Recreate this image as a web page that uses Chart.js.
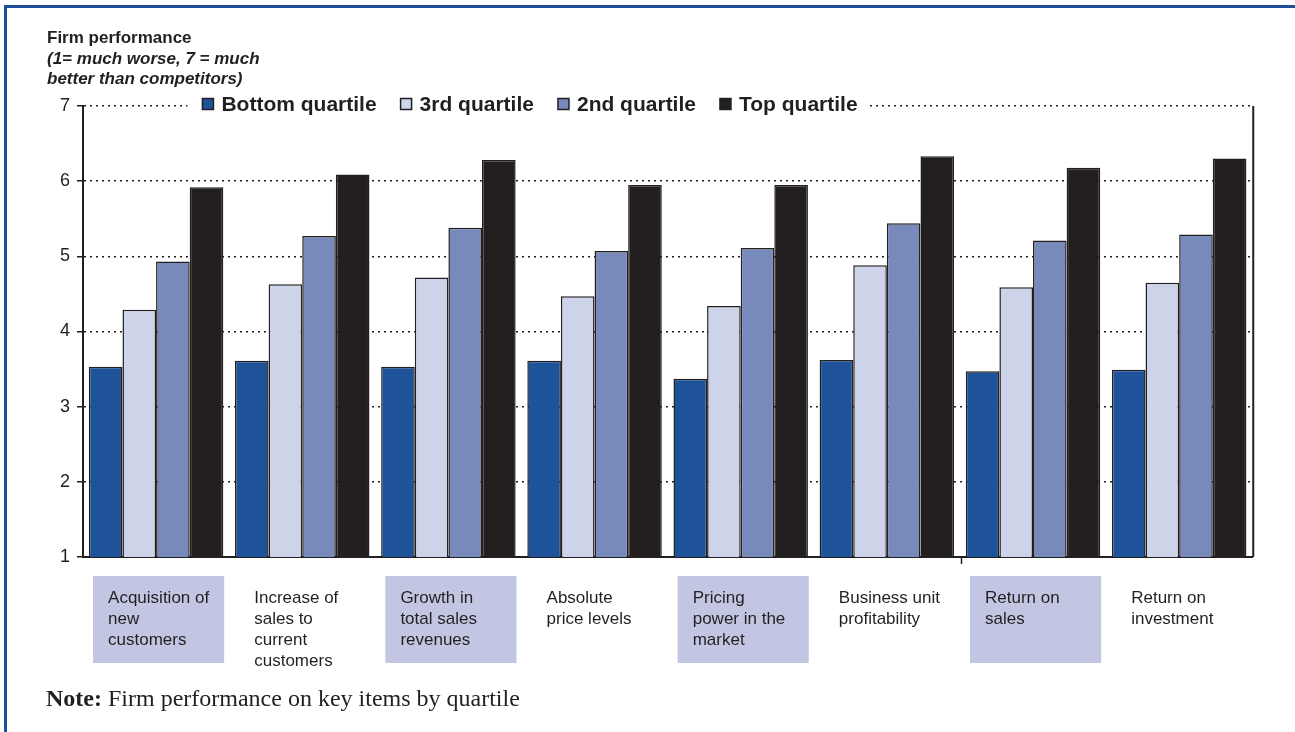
<!DOCTYPE html>
<html>
<head>
<meta charset="utf-8">
<script src="https://cdn.jsdelivr.net/npm/chart.js@4.4.1/dist/chart.umd.min.js"></script>
<style>
  html, body { margin: 0; padding: 0; background: #fff; }
  #wrap { position: relative; width: 1295px; height: 732px; overflow: hidden; }
  #chart { position: absolute; left: 0; top: 0; }
  #frame { position: absolute; left: 4px; top: 5px; width: 1320px; height: 760px;
           border-top: 3px solid #1d4f99; border-left: 3px solid #1d4f99; }
  #ytitle { position: absolute; left: 47px; top: 28px; font-family: "Liberation Sans", Arial, sans-serif;
            font-size: 17px; font-weight: bold; line-height: 20.5px; color: #231f20; }
  #ytitle i { font-style: italic; }
  #note { position: absolute; left: 46px; top: 684px; font-family: "Liberation Serif", "Times New Roman", serif;
          font-size: 24px; line-height: 28px; color: #231f20; }
</style>
</head>
<body>
<div id="wrap">
  <canvas id="chart" width="1295" height="732"></canvas>
  <div id="frame"></div>
  <div id="ytitle">Firm performance<br><i>(1= much worse, 7 = much<br>better than competitors)</i></div>
  <div id="note"><b>Note:</b> Firm performance on key items by quartile</div>
</div>
<script>
// categories (multi-line labels)
const categories = [
  ['Acquisition of', 'new', 'customers'],
  ['Increase of', 'sales to', 'current', 'customers'],
  ['Growth in', 'total sales', 'revenues'],
  ['Absolute', 'price levels'],
  ['Pricing', 'power in the', 'market'],
  ['Business unit', 'profitability'],
  ['Return on', 'sales'],
  ['Return on', 'investment']
];

const bottomQuartile = [3.53, 3.61, 3.53, 3.61, 3.37, 3.62, 3.47, 3.49];
const thirdQuartile  = [4.29, 4.63, 4.72, 4.47, 4.34, 4.88, 4.59, 4.65];
const secondQuartile = [4.93, 5.27, 5.38, 5.07, 5.11, 5.44, 5.21, 5.29];
const topQuartile    = [5.92, 6.09, 6.28, 5.95, 5.95, 6.33, 6.18, 6.30];

const seriesNames = ['Bottom quartile', '3rd quartile', '2nd quartile', 'Top quartile'];
const yTicks = [1, 2, 3, 4, 5, 6, 7];

const ink = '#231f20';
const colors = ['#1f5399', '#cdd3e8', '#7889bb', '#231f20'];
const FONT = '"Liberation Sans", Arial, sans-serif';

// shaded boxes behind every other category label
const labelBoxes = {
  id: 'labelBoxes',
  beforeDraw(chart) {
    const x = chart.scales.x, ctx = chart.ctx;
    const w = (x.right - x.left) / categories.length;
    ctx.save();
    ctx.fillStyle = '#c2c6e2';
    categories.forEach((c, i) => {
      if (i % 2) return;
      const left = x.getPixelForValue(i) - w / 2;
      ctx.fillRect(left + 10, x.top + 19, w - 15, 87);
    });
    ctx.restore();
  }
};

// right side of the plot frame + the lone tick under the x axis
const frameBits = {
  id: 'frameBits',
  afterDatasetsDraw(chart) {
    const a = chart.chartArea, ctx = chart.ctx, x = chart.scales.x;
    ctx.save();
    ctx.strokeStyle = ink;
    ctx.lineWidth = 2;
    ctx.beginPath();
    ctx.moveTo(a.right + 1, a.top);
    ctx.lineTo(a.right + 1, a.bottom);
    ctx.stroke();
    const tx = Math.round((x.getPixelForValue(5) + x.getPixelForValue(6)) / 2) + 1.5;
    ctx.lineWidth = 1.5;
    ctx.beginPath();
    ctx.moveTo(tx, a.bottom);
    ctx.lineTo(tx, a.bottom + 7);
    ctx.stroke();
    ctx.restore();
  }
};

// legend sitting on the top gridline
const topLegend = {
  id: 'topLegend',
  afterDraw(chart) {
    const ctx = chart.ctx, a = chart.chartArea;
    ctx.save();
    ctx.font = 'bold 21px ' + FONT;
    const box = 11, gap = 8, spacing = 24;
    const widths = chart.data.datasets.map(d => ctx.measureText(d.label).width);
    const total = widths.reduce((s, w) => s + w + box + gap, 0) + spacing * (widths.length - 1);
    const cy = a.top - 2;
    let x = 530 - total / 2;
    ctx.fillStyle = '#fff';
    ctx.fillRect(x - 15, cy - 13, total + 26, 26);
    ctx.textBaseline = 'middle';
    chart.data.datasets.forEach((d, i) => {
      ctx.fillStyle = d.backgroundColor;
      ctx.fillRect(x, cy - box / 2, box, box);
      ctx.strokeStyle = ink;
      ctx.lineWidth = 1.5;
      ctx.strokeRect(x, cy - box / 2, box, box);
      ctx.fillStyle = ink;
      ctx.fillText(d.label, x + box + gap, cy + 1);
      x += box + gap + widths[i] + spacing;
    });
    ctx.restore();
  }
};

new Chart(document.getElementById('chart'), {
  type: 'bar',
  data: {
    labels: categories,
    datasets: [bottomQuartile, thirdQuartile, secondQuartile, topQuartile].map((vals, i) => ({
      label: seriesNames[i],
      data: vals,
      backgroundColor: colors[i],
      borderColor: ink,
      borderWidth: 1.5,
      borderSkipped: 'bottom',
      categoryPercentage: 0.92,
      barPercentage: 1
    }))
  },
  options: {
    responsive: false,
    animation: false,
    devicePixelRatio: 1,
    layout: { padding: { left: 0, top: 106, right: 42, bottom: 0 } },
    plugins: {
      legend: { display: false },
      tooltip: { enabled: false }
    },
    scales: {
      x: {
        grid: { display: false, drawTicks: false },
        border: { display: true, color: ink, width: 2 },
        ticks: {
          align: 'start',
          labelOffset: -48,
          padding: 31,
          autoSkip: false,
          maxRotation: 0,
          color: ink,
          font: { family: FONT, size: 17, lineHeight: '21px' }
        },
        afterFit(scale) { scale.height = 175; }
      },
      y: {
        min: 1,
        max: 7,
        afterBuildTicks(scale) { scale.ticks = yTicks.map(v => ({ value: v })); },
        grid: { color: ink, lineWidth: 1.5, tickLength: 6, tickColor: ink, tickBorderDash: [] },
        border: { display: true, color: ink, width: 2, dash: [2, 4] },
        ticks: { color: ink, padding: 7, font: { family: FONT, size: 18 } },
        afterFit(scale) { scale.width = 83; }
      }
    }
  },
  plugins: [labelBoxes, frameBits, topLegend]
});
</script>
</body>
</html>
